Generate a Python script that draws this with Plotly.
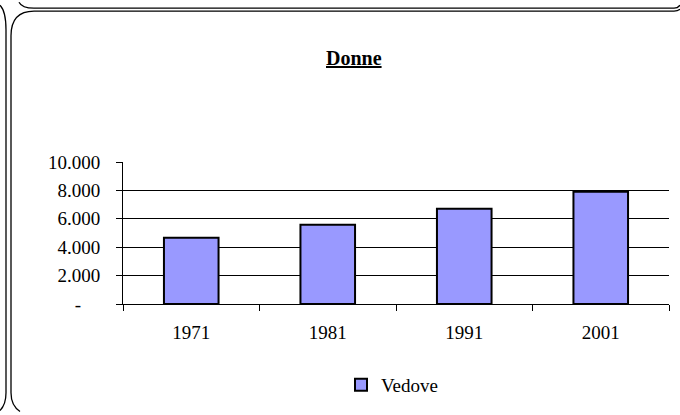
import plotly.graph_objects as go

categories = ["1971", "1981", "1991", "2001"]
vedove = [4670, 5580, 6710, 7900]
y_tickvals = [0, 2000, 4000, 6000, 8000, 10000]
y_ticktext = ["-\u00a0\u00a0\u00a0\u00a0", "2.000", "4.000", "6.000", "8.000", "10.000"]
series_name = "Vedove"
title_text = "Donne"

W, H = 680, 415
L, R, T, B = 123, 11, 162, 109
pw, ph = W - L - R, H - T - B


def px(x):
    return (x - L) / pw


def py(y):
    return (H - B - y) / ph


def path(pts):
    out = []
    for cmd in pts:
        op = cmd[0]
        vals = cmd[1:]
        conv = []
        for i in range(0, len(vals), 2):
            conv.append(f"{px(vals[i]):.5f},{py(vals[i+1]):.5f}")
        out.append(op + " " + " ".join(conv))
    return " ".join(out)


FONT = "Liberation Serif, Times New Roman, serif"

fig = go.Figure()
fig.add_trace(go.Bar(
    x=categories, y=vedove, name=series_name,
    marker=dict(color="#9999FF", line=dict(color="black", width=2)),
    showlegend=True,
))

frame_paths = [
    [("M", 19, 0), ("Q", 22, 6, 34, 6), ("L", 674, 6), ("Q", 678, 6, 680, 3)],
    [("M", 680, 7), ("Q", 678, 9, 674, 9), ("L", 34, 9), ("Q", 11, 9, 11, 34),
     ("L", 11, 396), ("Q", 11, 409, 20, 415)],
    [("M", 0, 3), ("Q", 6, 9, 6, 28), ("L", 6, 396), ("Q", 6, 408, 0, 414)],
]
shapes = []
for p in frame_paths:
    shapes.append(dict(type="path", xref="paper", yref="paper", path=path(p),
                       line=dict(color="black", width=1.3), layer="above"))

fig.update_layout(
    width=W, height=H,
    margin=dict(l=L, r=R, t=T, b=B, pad=0),
    paper_bgcolor="white", plot_bgcolor="white",
    font=dict(family=FONT, size=19, color="black"),
    bargap=0.6,
    showlegend=True,
    legend=dict(orientation="h", x=px(392), xanchor="center", y=py(388), yanchor="middle",
                font=dict(family=FONT, size=19, color="black"),
                bgcolor="rgba(0,0,0,0)", borderwidth=0),
    shapes=shapes,
    annotations=[dict(text=f"<b>{title_text}</b>", x=px(354), y=py(57), xref="paper", yref="paper",
                      xanchor="center", yanchor="middle", showarrow=False,
                      font=dict(family=FONT, size=20, color="black", lineposition="under"))],
    xaxis=dict(type="category", range=[-0.5, 3.5], showline=True, linecolor="black", linewidth=1,
               ticks="outside", tickson="boundaries", ticklen=6, tickcolor="black", tickwidth=1,
               showgrid=False, ticklabelstandoff=11, fixedrange=True),
    yaxis=dict(range=[0, 10000], tickvals=y_tickvals, ticktext=y_ticktext, showline=True,
               linecolor="black", linewidth=1, ticks="outside", ticklen=6, tickcolor="black",
               showgrid=True, gridcolor="black", gridwidth=1, zeroline=False,
               ticklabelstandoff=12, fixedrange=True),
)

fig.write_html("out.html", config={"displayModeBar": False},
               post_script="document.body.style.margin='0px';")
